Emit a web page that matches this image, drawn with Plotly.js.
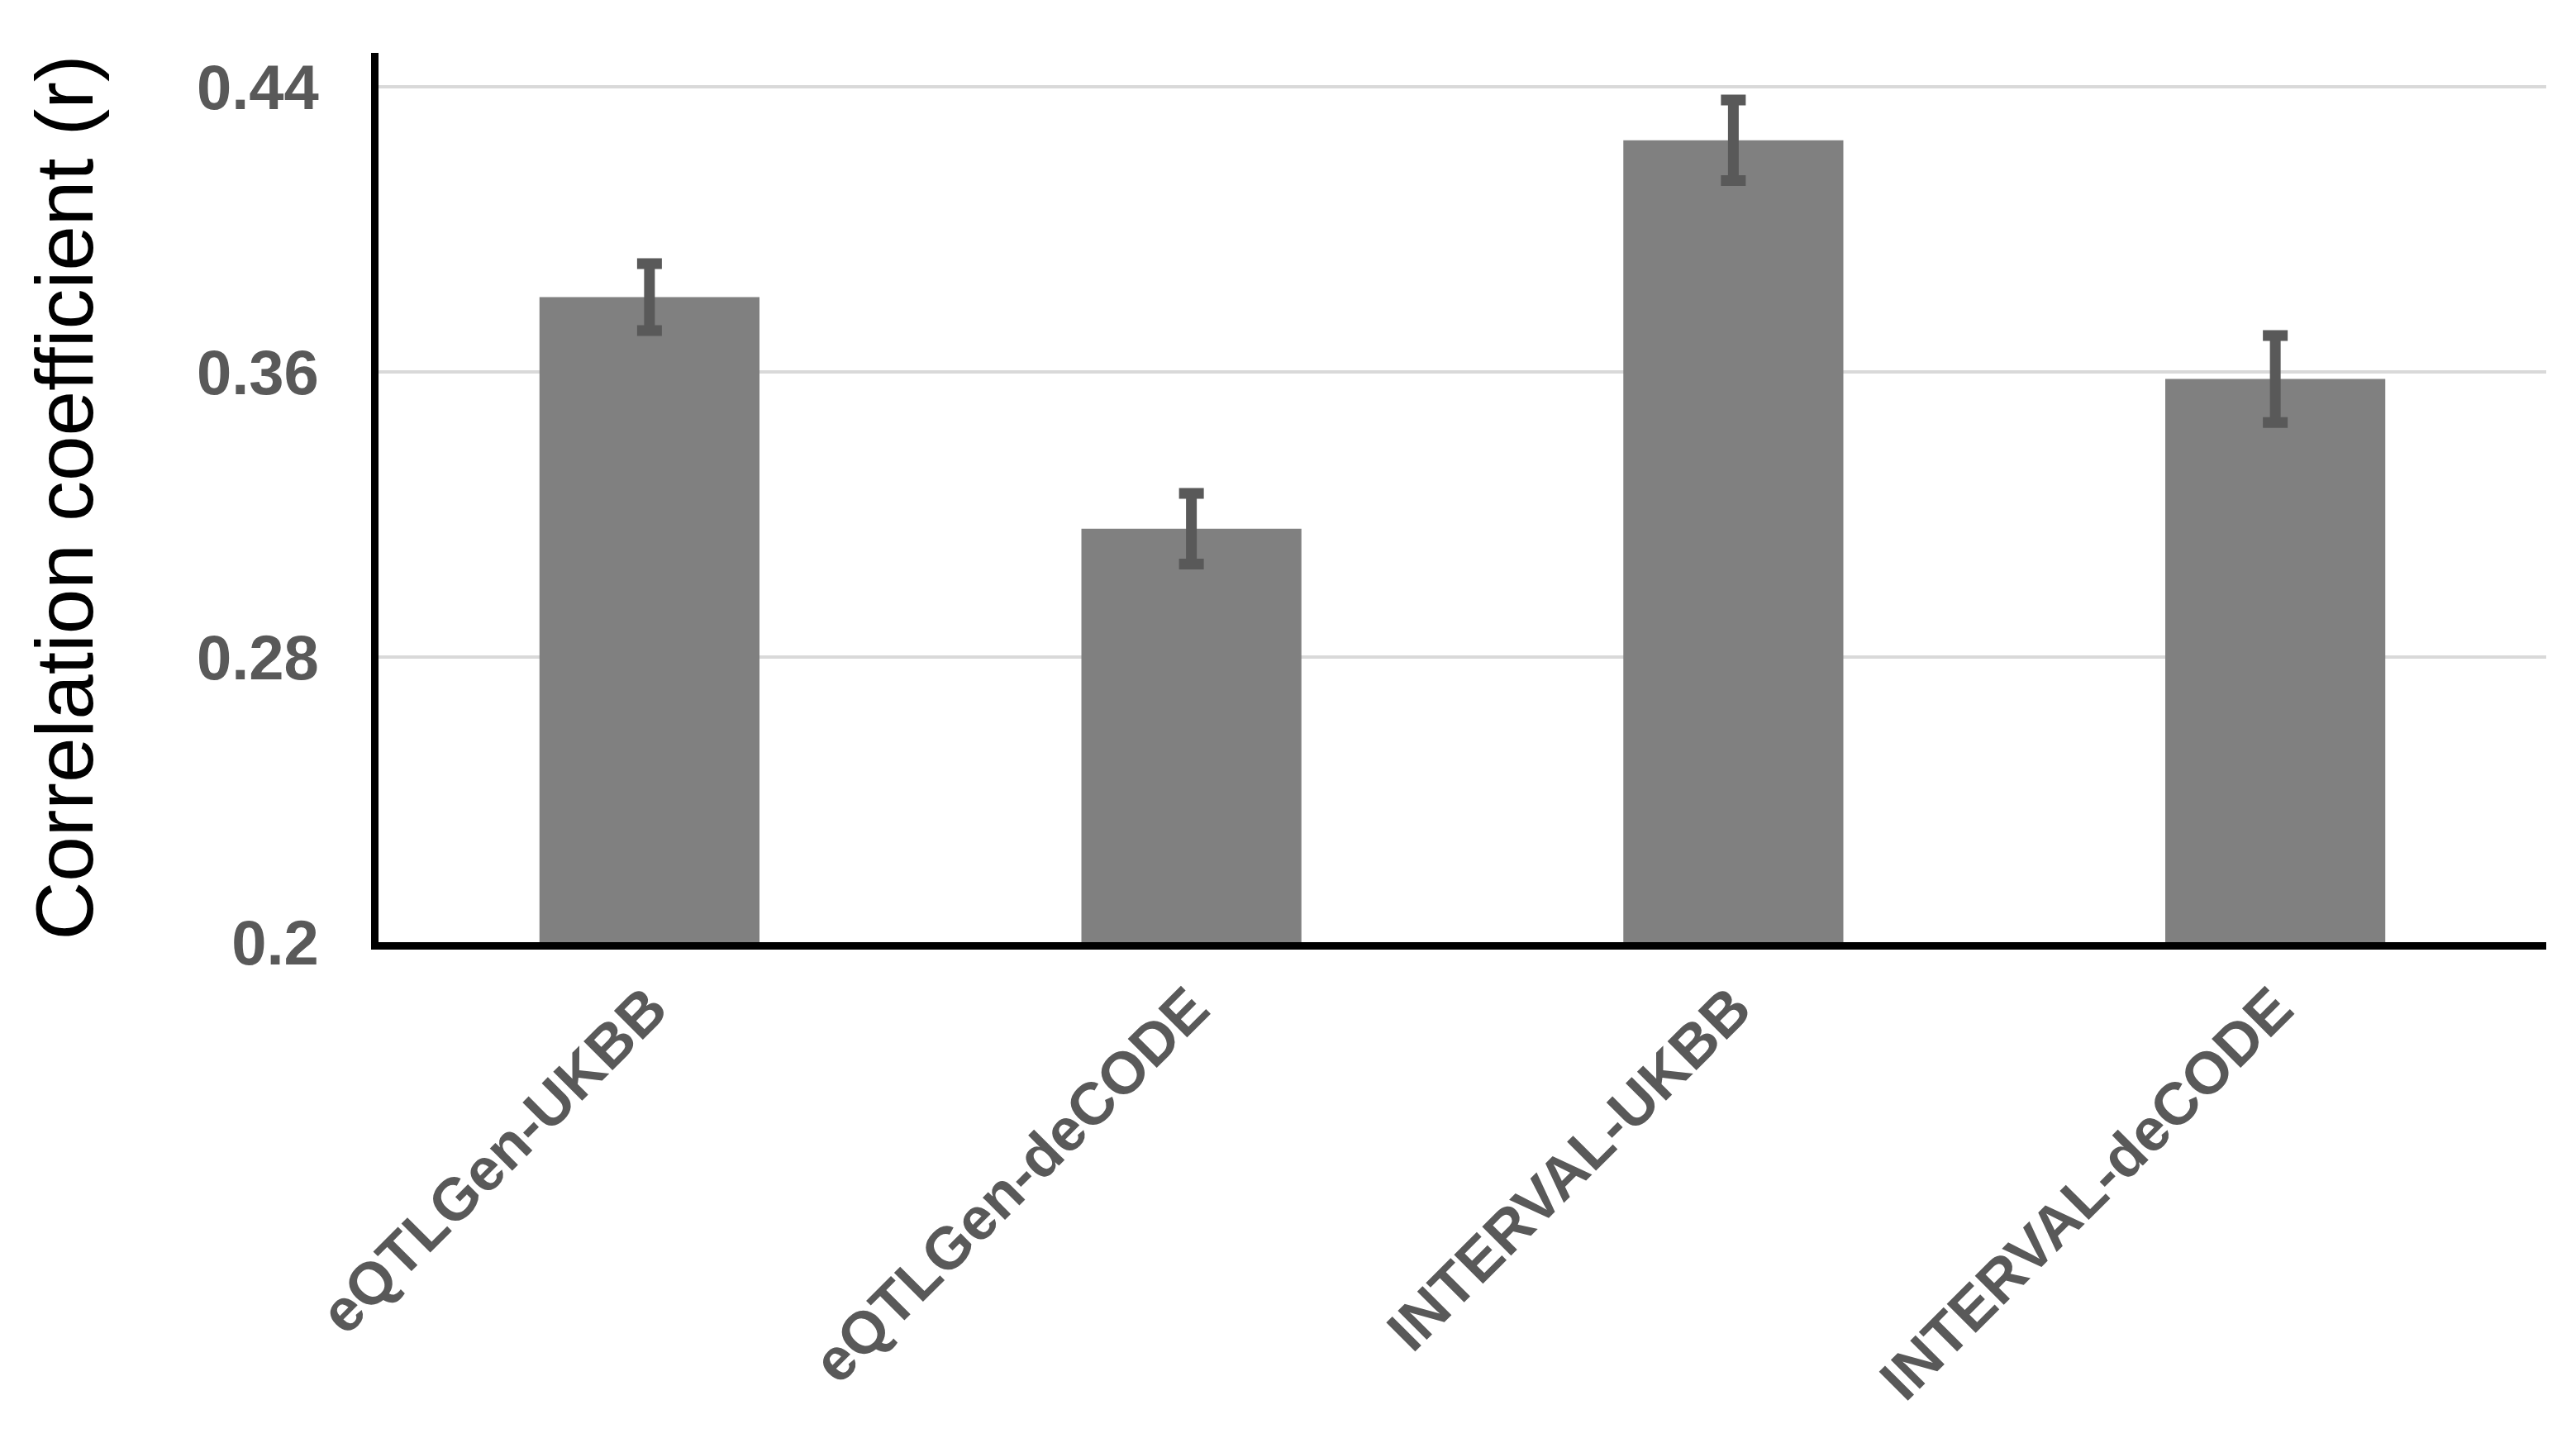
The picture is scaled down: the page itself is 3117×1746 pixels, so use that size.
<!DOCTYPE html>
<html>
<head>
<meta charset="utf-8">
<script src="https://cdn.plot.ly/plotly-3.0.1.min.js"></script>
<style>
  html, body { margin: 0; padding: 0; background: #fff; }
  #chart { width: 3117px; height: 1746px; }
</style>
</head>
<body>
<div id="chart"></div>
<script>
const categories = ['eQTLGen-UKBB', 'eQTLGen-deCODE', 'INTERVAL-UKBB', 'INTERVAL-deCODE'];
const corrValues = [0.381, 0.316, 0.425, 0.358];
const corrErrors = [0.0094, 0.0099, 0.0113, 0.0122];
const yTickVals = [0.2, 0.28, 0.36, 0.44];
const yTickText = ['0.2', '0.28', '0.36', '0.44'];

const FONT = 'Liberation Sans, Arial, sans-serif';

const traces = [{
  x: categories,
  y: corrValues,
  type: 'bar',
  marker: { color: '#808080', line: { width: 0 } },
  error_y: {
    type: 'data',
    array: corrErrors,
    visible: true,
    color: '#595959',
    thickness: 13,
    width: 15
  },
  hoverinfo: 'skip'
}];

const layout = {
  width: 3117,
  height: 1746,
  margin: { l: 458, r: 36, t: 64, b: 606 },
  paper_bgcolor: '#ffffff',
  plot_bgcolor: '#ffffff',
  showlegend: false,
  bargap: 0.594,
  xaxis: {
    type: 'category',
    showline: true,
    linecolor: '#000000',
    linewidth: 9,
    ticks: '',
    tickangle: -45,
    ticklabelstandoff: 0,
    tickfont: { family: FONT, size: 72, color: '#595959', weight: 'bold' },
    showgrid: false,
    zeroline: false
  },
  yaxis: {
    range: [0.2, 0.4495],
    tickvals: yTickVals,
    ticktext: yTickText,
    showline: true,
    linecolor: '#000000',
    linewidth: 9,
    ticks: '',
    ticklabelstandoff: 48,
    tickfont: { family: FONT, size: 76, color: '#595959', weight: 'bold' },
    showgrid: true,
    gridcolor: '#d9d9d9',
    gridwidth: 4,
    zeroline: false,
    title: {
      text: 'Correlation coefficient (r)',
      font: { family: FONT, size: 98, color: '#000000' },
      standoff: 96
    }
  }
};

Plotly.newPlot('chart', traces, layout, { displayModeBar: false, staticPlot: true });
</script>
</body>
</html>
